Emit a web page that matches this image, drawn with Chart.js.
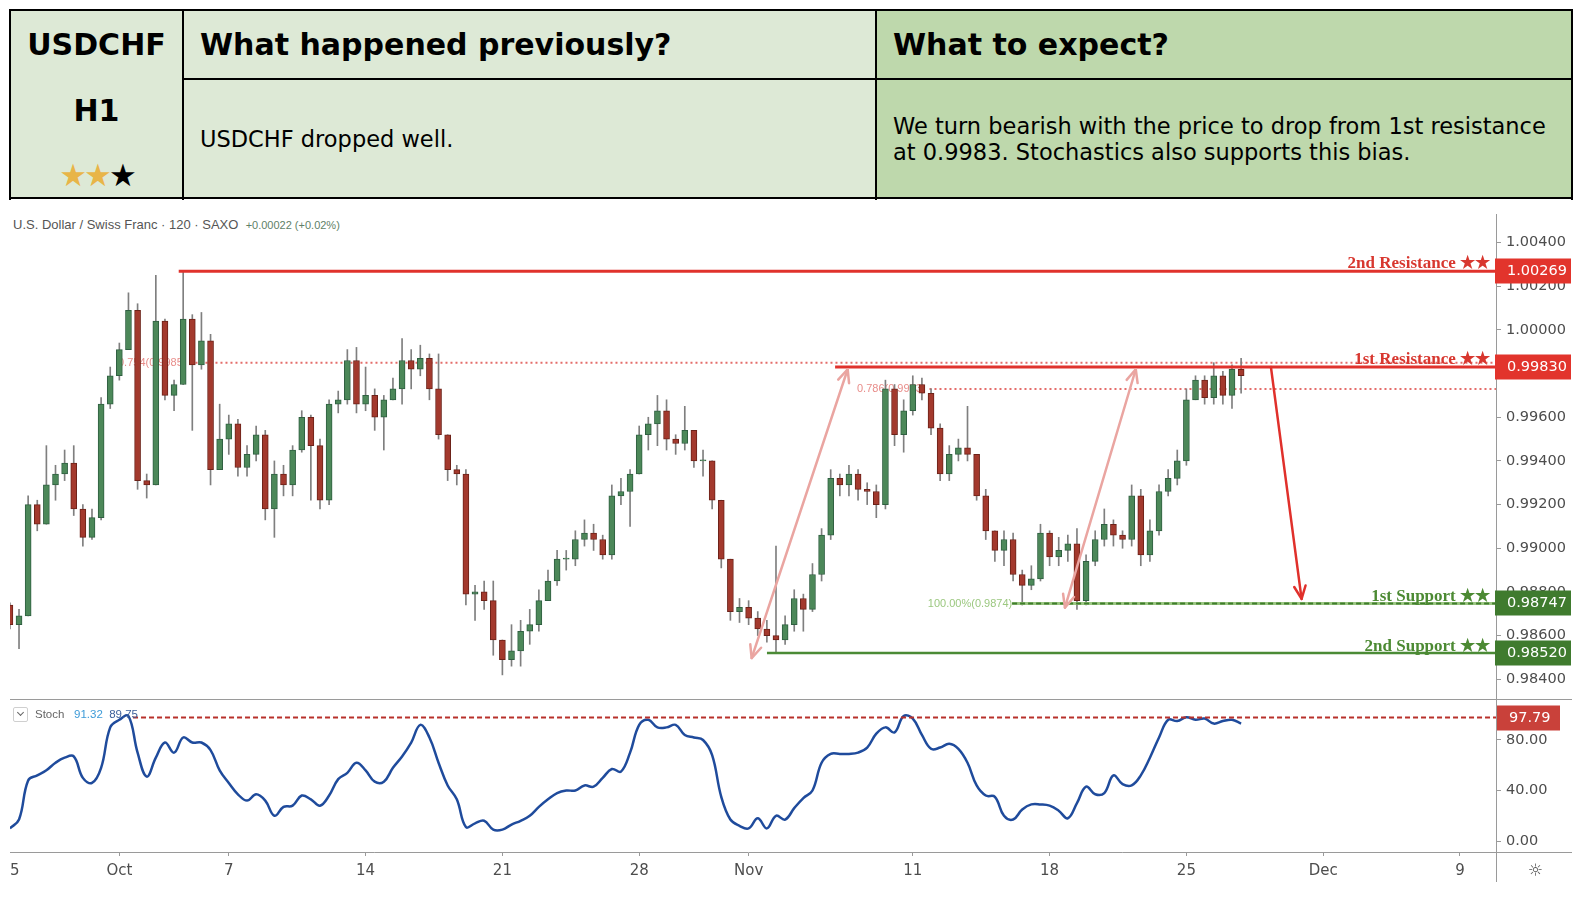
<!DOCTYPE html>
<html>
<head>
<meta charset="utf-8">
<script src="https://cdn.jsdelivr.net/npm/chart.js@4.4.1/dist/chart.umd.min.js"></script>
<style>
  html,body{margin:0;padding:0;background:#fff;}
  body{width:1578px;height:908px;position:relative;overflow:hidden;font-family:'DejaVu Sans',sans-serif;color:#000;}
  .abs{position:absolute;box-sizing:border-box;}
  .bl{position:absolute;background:#000;}
  .gl{position:absolute;background:#9a9a9a;z-index:5;}
  .h1t{font-weight:bold;font-size:30px;line-height:30px;white-space:nowrap;}
  .bt{font-size:22.5px;line-height:26px;white-space:nowrap;}
  canvas{position:absolute;left:0;}
</style>
</head>
<body>
<!-- header table -->
<div class="abs" style="left:10px;top:10px;width:866px;height:189px;background:#dde9d6"></div>
<div class="abs" style="left:876px;top:10px;width:696px;height:189px;background:#bed8ac"></div>
<div class="bl" style="left:9px;top:9px;width:1564px;height:2px"></div>
<div class="bl" style="left:9px;top:197px;width:1564px;height:2px"></div>
<div class="bl" style="left:9px;top:9px;width:2px;height:191px"></div>
<div class="bl" style="left:1571px;top:9px;width:2px;height:191px"></div>
<div class="bl" style="left:182px;top:9px;width:2px;height:191px"></div>
<div class="bl" style="left:875px;top:9px;width:2px;height:191px"></div>
<div class="bl" style="left:182px;top:78px;width:1391px;height:2px"></div>

<div class="abs h1t" style="left:10px;top:30px;width:173px;text-align:center;">USDCHF</div>
<div class="abs h1t" style="left:10px;top:95.5px;width:173px;text-align:center;">H1</div>
<div class="abs" style="left:10px;top:158px;width:173px;text-align:center;font-size:31px;line-height:34px;letter-spacing:-3px;white-space:nowrap;"><span style="color:#e8b548">★★</span><span style="color:#000">★</span></div>
<div class="abs h1t" style="left:200px;top:30px;">What happened previously?</div>
<div class="abs bt" style="left:200px;top:125.5px;">USDCHF dropped well.</div>
<div class="abs h1t" style="left:893px;top:30px;">What to expect?</div>
<div class="abs bt" style="left:893px;top:113px;">We turn bearish with the price to drop from 1st resistance<br>at 0.9983. Stochastics also supports this bias.</div>

<!-- chart info line -->
<div class="abs" style="left:13px;top:218px;font-family:'Liberation Sans';font-size:13px;line-height:14px;color:#555;white-space:nowrap;">U.S. Dollar / Swiss Franc · 120 · SAXO &nbsp;<span style="font-size:11px;color:#5f7f67;">+0.00022 (+0.02%)</span></div>

<canvas id="pc" width="1578" height="486" style="top:214px"></canvas>
<canvas id="sc" width="1578" height="185" style="top:700px"></canvas>

<!-- crop mask at the left edge, as in the reference -->
<div class="abs" style="left:0;top:205px;width:10px;height:700px;background:#fff;z-index:4"></div>

<!-- panel separators -->
<div class="gl" style="left:10px;top:699px;width:1562px;height:1px"></div>
<div class="gl" style="left:1496px;top:852px;width:76px;height:1px"></div>
<div class="gl" style="left:1496px;top:852px;width:1px;height:30px"></div>

<!-- stochastic legend -->
<div class="abs" style="left:13px;top:707px;width:15px;height:15px;border:1px solid #cfcfcf;border-radius:2px;background:#fff;z-index:6"></div>
<div class="abs" style="left:18px;top:710px;width:5px;height:5px;border-right:1.5px solid #666;border-bottom:1.5px solid #666;transform:rotate(45deg);z-index:7"></div>
<div class="abs" style="left:35px;top:707px;font-family:'Liberation Sans';font-size:11.5px;line-height:14px;white-space:nowrap;z-index:6;color:#666;">Stoch&nbsp;&nbsp; <span style="color:#3e9bd8">91.32</span>&nbsp; <span style="color:#3c5f9a">89.75</span></div>

<div class="abs" style="left:1528px;top:860px;font-size:17px;line-height:20px;color:#555;z-index:6">☼</div>

<script>
// ---------------- data ----------------
const CANDLES_PER_DAY = 3;          // 8-hour candles, trading-day x units
const firstOpen = 0.9874;
const candleCloses = [
  0.9865,0.9869,0.9920,0.9911,0.9929,0.9934,0.9939,0.9918,0.9905,0.9914,
  0.9966,0.9979,0.9991,1.0009,0.9931,0.9929,1.0004,0.9970,0.9975,1.0005,
  0.9984,0.9995,0.9936,0.9950,0.9957,0.9937,0.9943,0.9952,0.9918,0.9934,
  0.9929,0.9945,0.9960,0.9947,0.9922,0.9966,0.9968,0.9986,0.9966,0.9970,
  0.9960,0.9968,0.9973,0.9986,0.9982,0.9987,0.9973,0.9952,0.9936,0.9934,
  0.9879,0.9880,0.9876,0.9858,0.9849,0.9853,0.9862,0.9865,0.9876,0.9885,
  0.9895,0.9895,0.9904,0.9907,0.9904,0.9897,0.9924,0.9926,0.9934,0.9952,
  0.9957,0.9963,0.9950,0.9948,0.9954,0.9940,0.9940,0.9922,0.9895,0.9871,
  0.9873,0.9868,0.9863,0.9860,0.9858,0.9865,0.9877,0.9872,0.9888,0.9906,
  0.9932,0.9929,0.9934,0.9927,0.9926,0.9920,0.9973,0.9952,0.9963,0.9975,
  0.9971,0.9955,0.9934,0.9943,0.9946,0.9943,0.9924,0.9908,0.9899,0.9904,
  0.9888,0.9883,0.9886,0.9907,0.9896,0.9899,0.9902,0.9876,0.9894,0.9904,
  0.9911,0.9906,0.9904,0.9924,0.9897,0.9908,0.9926,0.9932,0.9940,0.9968,
  0.9977,0.9969,0.9979,0.9970,0.9982,0.9979];
const candleHighs = [
  0.9875,0.9872,0.9924,0.9922,0.9947,0.9938,0.9945,0.9947,0.9920,0.9918,
  0.9969,0.9983,0.9994,1.0017,1.0012,0.9934,1.0025,1.0005,0.9977,1.0027,
  1.0007,1.0008,0.9998,0.9966,0.9961,0.9959,0.9947,0.9956,0.9954,0.9940,
  0.9938,0.9947,0.9963,0.9961,0.9950,0.9968,0.9972,0.9991,0.9992,0.9983,
  0.9973,0.9970,0.9978,0.9996,0.9991,0.9993,0.9989,0.9989,0.9952,0.9938,
  0.9936,0.9883,0.9885,0.9885,0.9858,0.9865,0.9867,0.9872,0.9881,0.9890,
  0.9899,0.9899,0.9908,0.9913,0.9911,0.9906,0.9929,0.9932,0.9936,0.9956,
  0.9960,0.9970,0.9968,0.9952,0.9965,0.9954,0.9945,0.9940,0.9922,0.9895,
  0.9877,0.9876,0.9871,0.9867,0.9901,0.9869,0.9881,0.9879,0.9893,0.9909,
  0.9936,0.9934,0.9938,0.9936,0.9930,0.9929,0.9977,0.9975,0.9968,0.9979,
  0.9978,0.9973,0.9957,0.9947,0.9950,0.9965,0.9943,0.9927,0.9908,0.9908,
  0.9907,0.9890,0.9892,0.9911,0.9908,0.9905,0.9906,0.9909,0.9897,0.9908,
  0.9918,0.9913,0.9908,0.9929,0.9927,0.9913,0.9929,0.9936,0.9945,0.9973,
  0.9979,0.9979,0.9985,0.9981,0.9984,0.9987];
const candleLows = [
  0.9863,0.9854,0.9869,0.9908,0.9911,0.9922,0.9931,0.9915,0.9901,0.9904,
  0.9913,0.9964,0.9977,0.9991,0.9927,0.9923,0.9929,0.9968,0.9963,0.9975,
  0.9954,0.9982,0.9929,0.9936,0.9943,0.9933,0.9933,0.9940,0.9913,0.9905,
  0.9924,0.9924,0.9944,0.9922,0.9918,0.9920,0.9962,0.9966,0.9962,0.9963,
  0.9954,0.9945,0.9968,0.9966,0.9973,0.9979,0.9968,0.9950,0.9931,0.9929,
  0.9874,0.9867,0.9872,0.9851,0.9842,0.9846,0.9846,0.9856,0.9862,0.9876,
  0.9883,0.9890,0.9892,0.9901,0.9899,0.9895,0.9895,0.9920,0.9910,0.9934,
  0.9945,0.9947,0.9945,0.9943,0.9945,0.9937,0.9933,0.9918,0.9891,0.9867,
  0.9866,0.9865,0.9860,0.9857,0.9852,0.9856,0.9862,0.9862,0.9871,0.9885,
  0.9904,0.9924,0.9924,0.9922,0.9920,0.9914,0.9918,0.9947,0.9944,0.9961,
  0.9968,0.9952,0.9931,0.9931,0.9940,0.9940,0.9922,0.9904,0.9894,0.9892,
  0.9885,0.9874,0.9881,0.9885,0.9892,0.9892,0.9894,0.9872,0.9874,0.9892,
  0.9901,0.9901,0.9900,0.9901,0.9892,0.9894,0.9906,0.9924,0.9929,0.9938,
  0.9968,0.9966,0.9966,0.9966,0.9964,0.9971];
const stochK = [
  10,17,48,52,56,62,66,67,50,46,
  58,90,96,99,70,51,66,78,70,82,
  78,78,72,56,46,37,32,37,32,20,
  27,28,36,33,28,36,49,54,62,56,
  47,47,58,67,78,92,82,62,44,33,
  11,14,16,9,9,13,16,20,27,33,
  38,40,40,44,43,50,57,55,70,92,
  96,90,90,92,84,82,80,68,35,17,
  12,10,18,10,20,17,26,34,40,62,
  69,69,69,70,74,85,90,86,99,97,
  84,73,74,77,73,62,44,36,35,20,
  17,25,29,29,28,24,18,30,43,37,
  38,52,45,44,52,66,82,96,95,98,
  96,97,93,95,96,93];
const priceTicks = [0.984,0.986,0.988,0.990,0.992,0.994,0.996,0.998,1.000,1.002,1.004];
const stochTicks = [0,40,80];
const dateTickDays   = [0,4,8,13,18,23,27,33,38,43,48,53];
const dateTickLabels = ['25','Oct','7','14','21','28','Nov','11','18','25','Dec','9'];

// levels (price) and where each drawing starts (trading-day units)
const resistance2 = 1.00269, resistance1 = 0.99830, support1 = 0.98747, support2 = 0.98520;
const fib754 = 0.9985, fib786 = 0.9973, stochMark = 97.79;
const levelStartDay = {res2: 6.17, res1: 30.16, sup1: 36.63, sup2: 27.67};
const fibLabels = [
  {text: '0.754(0.9985)', day: 3.95, value: fib754},
  {text: '0.786(0.9973)', day: 30.96, value: fib786}];
const fib100Label = {text: '100.00%(0.9874)', day: 33.55, value: support1};
const pinkArrows = [
  [[27.11, 0.98497], [30.62, 0.99820]],
  [[38.56, 0.98728], [41.15, 0.99820]]];
const redArrow = [[46.09, 0.99830], [47.21, 0.98768]];
const stochMarkStartDay = 4.5;

// ---------------- view ----------------
const X_MIN = -0.362, X_MAX = 54.316;
const P_MIN = 0.98305, P_MAX = 1.00531;
const S_MIN = -8.71, S_MAX = 111.68;
const GREEN = '#4c8859', GREEN_B = '#2f5f41', RED = '#a3392d', RED_B = '#6c2219', WICK = '#7f7f7f';
const AXIS = '#9a9a9a', TXT = '#4d4d4d';
const tickFont = {family: 'DejaVu Sans', size: 14.5};

const opens = candleCloses.map((c, i) => i === 0 ? firstOpen : candleCloses[i - 1]);
const dayOf = i => i / CANDLES_PER_DAY;
const isUp = c => !c.raw || c.raw.y[1] >= c.raw.y[0];

function hline(ctx, x1, x2, y, color, w, dash) {
  ctx.save(); ctx.strokeStyle = color; ctx.lineWidth = w; ctx.setLineDash(dash || []);
  ctx.beginPath(); ctx.moveTo(x1, y); ctx.lineTo(x2, y); ctx.stroke(); ctx.restore();
}
function head(ctx, x1, y1, x2, y2) {
  const a = Math.atan2(y2 - y1, x2 - x1), L = 14, s = 0.42;
  ctx.beginPath();
  ctx.moveTo(x2 - L * Math.cos(a - s), y2 - L * Math.sin(a - s));
  ctx.lineTo(x2, y2);
  ctx.lineTo(x2 - L * Math.cos(a + s), y2 - L * Math.sin(a + s));
  ctx.stroke();
}
function arrow(ctx, X, Y, pts, color, both) {
  const [a, b] = pts;
  const x1 = X(a[0]), y1 = Y(a[1]), x2 = X(b[0]), y2 = Y(b[1]);
  ctx.save(); ctx.strokeStyle = color; ctx.lineWidth = 2.5; ctx.lineCap = 'round'; ctx.lineJoin = 'round';
  ctx.beginPath(); ctx.moveTo(x1, y1); ctx.lineTo(x2, y2); ctx.stroke();
  head(ctx, x1, y1, x2, y2);
  if (both) head(ctx, x2, y2, x1, y1);
  ctx.restore();
}
function tag(ctx, x, w, y, color, text) {
  ctx.save(); ctx.fillStyle = color; ctx.fillRect(x, Math.round(y) - 12.5, w, 25);
  ctx.fillStyle = '#fff'; ctx.font = '14.5px "DejaVu Sans"'; ctx.textBaseline = 'middle'; ctx.textAlign = 'left';
  ctx.fillText(text, x + 12, Math.round(y) + 0.5); ctx.restore();
}

const pricePlugin = {
  id: 'priceNotes',
  beforeDatasetsDraw(chart) {
    const {ctx, chartArea: ca} = chart;
    const X = d => chart.scales.x.getPixelForValue(d), Y = v => chart.scales.y.getPixelForValue(v);
    ctx.save();
    ctx.font = '11px "Liberation Sans"'; ctx.textBaseline = 'middle'; ctx.textAlign = 'left';
    fibLabels.forEach(f => {
      const x = X(f.day), y = Y(f.value), w = ctx.measureText(f.text).width;
      ctx.fillStyle = '#e88d8a'; ctx.fillText(f.text, x, y);
      hline(ctx, x + w + 4, ca.right, y, '#e46d6a', 2, [2, 3]);
    });
    ctx.fillStyle = '#9cc880';
    ctx.fillText(fib100Label.text, X(fib100Label.day), Y(fib100Label.value));
    ctx.restore();
  },
  afterDatasetsDraw(chart) {
    const {ctx, chartArea: ca} = chart;
    const X = d => chart.scales.x.getPixelForValue(d), Y = v => chart.scales.y.getPixelForValue(v);
    hline(ctx, X(levelStartDay.res2), ca.right, Y(resistance2), '#e0322c', 3);
    hline(ctx, X(levelStartDay.res1), ca.right, Y(resistance1), '#e0322c', 3);
    hline(ctx, X(levelStartDay.sup2), ca.right, Y(support2), '#4b8b36', 2.5);
    hline(ctx, X(levelStartDay.sup1), ca.right, Y(support1), '#9cc783', 3);
    hline(ctx, X(levelStartDay.sup1), ca.right, Y(support1), '#3f7d2c', 2, [5, 3]);
    ctx.save();
    ctx.font = 'bold 17px "Liberation Serif"'; ctx.textAlign = 'right'; ctx.textBaseline = 'alphabetic';
    ctx.fillStyle = '#d8372f';
    ctx.fillText('2nd Resistance ★★', ca.right - 6, Y(resistance2) - 3);
    ctx.fillText('1st Resistance ★★', ca.right - 6, Y(resistance1) - 3);
    ctx.fillStyle = '#4c8a33';
    ctx.fillText('1st Support ★★', ca.right - 6, Y(support1) - 2);
    ctx.fillText('2nd Support ★★', ca.right - 6, Y(support2) - 2);
    ctx.restore();
    pinkArrows.forEach(p => arrow(ctx, X, Y, p, '#eaa5a1', true));
    arrow(ctx, X, Y, redArrow, '#e0302b', false);
  },
  afterDraw(chart) {
    const {ctx, chartArea: ca} = chart;
    const Y = v => chart.scales.y.getPixelForValue(v);
    tag(ctx, ca.right - 1, 76, Y(resistance2), '#e2342c', resistance2.toFixed(5));
    tag(ctx, ca.right - 1, 76, Y(resistance1), '#e2342c', resistance1.toFixed(5));
    tag(ctx, ca.right - 1, 76, Y(support1), '#3f7b2e', support1.toFixed(5));
    tag(ctx, ca.right - 1, 76, Y(support2), '#3f7b2e', support2.toFixed(5));
  }
};

const stochPlugin = {
  id: 'stochNotes',
  afterDatasetsDraw(chart) {
    const {ctx, chartArea: ca} = chart;
    const X = d => chart.scales.x.getPixelForValue(d), Y = v => chart.scales.y.getPixelForValue(v);
    hline(ctx, X(stochMarkStartDay), ca.right, Y(stochMark), '#b8312b', 2, [5, 3]);
  },
  afterDraw(chart) {
    const {ctx, chartArea: ca} = chart;
    tag(ctx, ca.right + 1, 63, chart.scales.y.getPixelForValue(stochMark), '#c9413a', stochMark.toFixed(2));
  }
};

const yAxisCommon = {
  position: 'right', bounds: 'data',
  ticks: {padding: 5, font: tickFont, color: TXT},
  grid: {drawOnChartArea: false, drawTicks: true, tickLength: 5, color: AXIS},
  border: {display: true, color: AXIS}
};

new Chart(document.getElementById('pc'), {
  type: 'bar',
  data: {datasets: [
    {label: 'range', data: candleLows.map((l, i) => ({x: dayOf(i), y: [l, candleHighs[i]]})),
     backgroundColor: WICK, barThickness: 1, grouped: false, order: 2},
    {label: 'body', data: opens.map((o, i) => ({x: dayOf(i), y: [o, candleCloses[i]]})),
     backgroundColor: c => isUp(c) ? GREEN : RED, borderColor: c => isUp(c) ? GREEN_B : RED_B,
     borderWidth: 1, borderSkipped: false, barThickness: 6, minBarLength: 1, grouped: false, order: 1}
  ]},
  options: {
    responsive: false, animation: false, devicePixelRatio: 1,
    layout: {padding: 0},
    plugins: {legend: {display: false}, tooltip: {enabled: false}},
    scales: {
      x: {type: 'linear', min: X_MIN, max: X_MAX, display: false, offset: false, bounds: 'data'},
      y: Object.assign({}, yAxisCommon, {
        min: P_MIN, max: P_MAX,
        afterFit: s => { s.width = 82; s.paddingTop = 0; s.paddingBottom = 0; },
        afterBuildTicks: s => { s.ticks = priceTicks.map(v => ({value: v})); },
        ticks: Object.assign({}, yAxisCommon.ticks, {callback: v => Number(v).toFixed(5)})
      })
    }
  },
  plugins: [pricePlugin]
});

new Chart(document.getElementById('sc'), {
  type: 'line',
  data: {datasets: [{label: 'Stoch', data: stochK.map((v, i) => ({x: dayOf(i), y: v})),
    borderColor: '#1f4b9c', borderWidth: 2.5, pointRadius: 0, tension: 0.4, fill: false}]},
  options: {
    responsive: false, animation: false, devicePixelRatio: 1,
    layout: {padding: 0},
    plugins: {legend: {display: false}, tooltip: {enabled: false}},
    scales: {
      x: {type: 'linear', min: X_MIN, max: X_MAX, position: 'bottom', bounds: 'data',
          afterBuildTicks: s => { s.ticks = dateTickDays.map(v => ({value: v})); },
          afterFit: s => { s.height = 33; s.paddingLeft = 0; s.paddingRight = 0; },
          ticks: {autoSkip: false, maxRotation: 0, padding: 6, font: {family: 'DejaVu Sans', size: 15}, color: TXT,
                  callback: (v, i) => dateTickLabels[i]},
          grid: {drawOnChartArea: false, drawTicks: true, tickLength: 4, color: AXIS},
          border: {display: true, color: AXIS}},
      y: Object.assign({}, yAxisCommon, {
        min: S_MIN, max: S_MAX,
        afterFit: s => { s.width = 82; s.paddingTop = 0; s.paddingBottom = 0; },
        afterBuildTicks: s => { s.ticks = stochTicks.map(v => ({value: v})); },
        ticks: Object.assign({}, yAxisCommon.ticks, {callback: v => Number(v).toFixed(2)})
      })
    }
  },
  plugins: [stochPlugin]
});
</script>
</body>
</html>
